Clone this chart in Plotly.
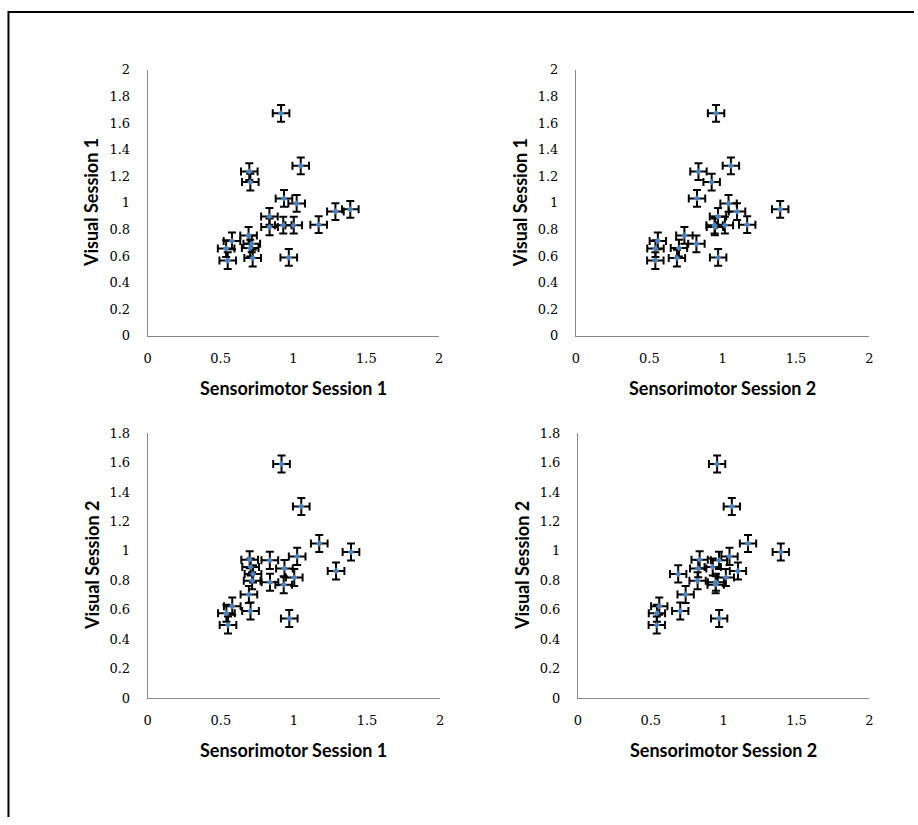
import plotly.graph_objects as go

# Per-subject scores (21 subjects)
sensorimotor_s1 = [0.915, 1.050, 0.697, 0.704, 0.935, 1.022, 1.288, 1.390, 0.835, 0.836, 0.930,
                   1.002, 1.173, 0.692, 0.578, 0.538, 0.714, 0.703, 0.549, 0.720, 0.968]
sensorimotor_s2 = [0.955, 1.056, 0.835, 0.925, 0.825, 1.040, 1.098, 1.392, 0.968, 0.947, 0.945,
                   1.015, 1.167, 0.739, 0.558, 0.542, 0.821, 0.702, 0.541, 0.688, 0.969]
visual_s1 = [1.673, 1.279, 1.235, 1.156, 1.033, 0.996, 0.935, 0.952, 0.898, 0.819, 0.832,
             0.832, 0.836, 0.755, 0.714, 0.657, 0.692, 0.660, 0.566, 0.585, 0.590]
visual_s2 = [1.590, 1.302, 0.940, 0.891, 0.880, 0.963, 0.864, 0.993, 0.936, 0.787, 0.770,
             0.820, 1.051, 0.704, 0.625, 0.577, 0.798, 0.592, 0.497, 0.844, 0.541]

# Error bar sizes for each measure
err_sm1 = 0.057
err_sm2 = 0.056
err_vs1 = 0.063
err_vs2 = 0.058

x_ticks = [0, 0.5, 1, 1.5, 2]
x_tick_text = ["0", "0.5", "1", "1.5", "2"]
y_ticks_top = [0, 0.2, 0.4, 0.6, 0.8, 1, 1.2, 1.4, 1.6, 1.8, 2]
y_tick_text_top = ["0", "0.2", "0.4", "0.6", "0.8", "1", "1.2", "1.4", "1.6", "1.8", "2"]
y_ticks_bottom = [0, 0.2, 0.4, 0.6, 0.8, 1, 1.2, 1.4, 1.6, 1.8]
y_tick_text_bottom = ["0", "0.2", "0.4", "0.6", "0.8", "1", "1.2", "1.4", "1.6", "1.8"]

x_titles = ["Sensorimotor Session 1", "Sensorimotor Session 2",
            "Sensorimotor Session 1", "Sensorimotor Session 2"]
y_titles = ["Visual Session 1", "Visual Session 1", "Visual Session 2", "Visual Session 2"]

W, H = 918, 825

# Panel plot areas in pixels: (left, right, top, bottom)
panels_px = [
    (145, 439, 64, 335),
    (577, 873, 64, 335),
    (145, 440, 434, 704),
    (579, 873, 434, 704),
]

series = [
    (sensorimotor_s1, visual_s1, err_sm1, err_vs1),
    (sensorimotor_s2, visual_s1, err_sm2, err_vs1),
    (sensorimotor_s1, visual_s2, err_sm1, err_vs2),
    (sensorimotor_s2, visual_s2, err_sm2, err_vs2),
]

fig = go.Figure()

tick_font = dict(family="DejaVu Serif", size=13, color="#000000")
title_font = dict(family="Lato", size=18, color="#000000")

annotations = []
for i, ((l, r, t, b), (xs, ys, ex, ey)) in enumerate(zip(panels_px, series)):
    n = "" if i == 0 else str(i + 1)
    xa, ya = "x" + n, "y" + n
    fig.add_trace(go.Scatter(
        x=xs, y=ys, mode="markers", xaxis=xa, yaxis=ya, showlegend=False,
        marker=dict(symbol="diamond", size=5, color="#4F81BD"),
        error_x=dict(type="constant", value=ex, color="#000000", thickness=2, width=4),
        error_y=dict(type="constant", value=ey, color="#000000", thickness=2, width=4),
    ))
    top_row = i < 2
    xdom = [l / W, r / W]
    ydom = [(H - b) / H, (H - t) / H]
    fig.update_layout(**{
        "xaxis" + n: dict(
            domain=xdom, range=[0, 2], tickvals=x_ticks, ticktext=x_tick_text,
            showgrid=False, zeroline=False, showline=True, linecolor="#888888",
            linewidth=1, ticks="", tickfont=tick_font, ticklabelstandoff=10,
            anchor=ya, fixedrange=True,
        ),
        "yaxis" + n: dict(
            domain=ydom, range=[0, 2] if top_row else [0, 1.8],
            tickvals=y_ticks_top if top_row else y_ticks_bottom,
            ticktext=y_tick_text_top if top_row else y_tick_text_bottom,
            showgrid=False, zeroline=False, showline=True, linecolor="#888888",
            linewidth=1, ticks="", tickfont=tick_font, ticklabelstandoff=14,
            anchor=xa, fixedrange=True,
        ),
    })
    annotations.append(dict(
        text="<b>%s</b>" % x_titles[i], x=(l + r) / 2 / W, y=(H - (b + 53)) / H,
        xref="paper", yref="paper", showarrow=False, font=title_font,
        xanchor="center", yanchor="middle",
    ))
    annotations.append(dict(
        text="<b>%s</b>" % y_titles[i], x=(l - 57) / W, y=(H - (t + b) / 2) / H,
        xref="paper", yref="paper", showarrow=False, font=title_font, textangle=-90,
        xanchor="center", yanchor="middle",
    ))

# Outer frame: left and top edges
shapes = [
    dict(type="line", xref="paper", yref="paper", x0=4.5 / W, x1=4.5 / W, y0=0, y1=(H - 4) / H,
         line=dict(color="#000000", width=2)),
    dict(type="line", xref="paper", yref="paper", x0=4 / W, x1=1, y0=(H - 5) / H, y1=(H - 5) / H,
         line=dict(color="#000000", width=2)),
]

fig.update_layout(
    width=W, height=H, margin=dict(l=0, r=0, t=0, b=0),
    paper_bgcolor="#ffffff", plot_bgcolor="#ffffff",
    annotations=annotations, shapes=shapes,
)

fig.write_html("out.html")
